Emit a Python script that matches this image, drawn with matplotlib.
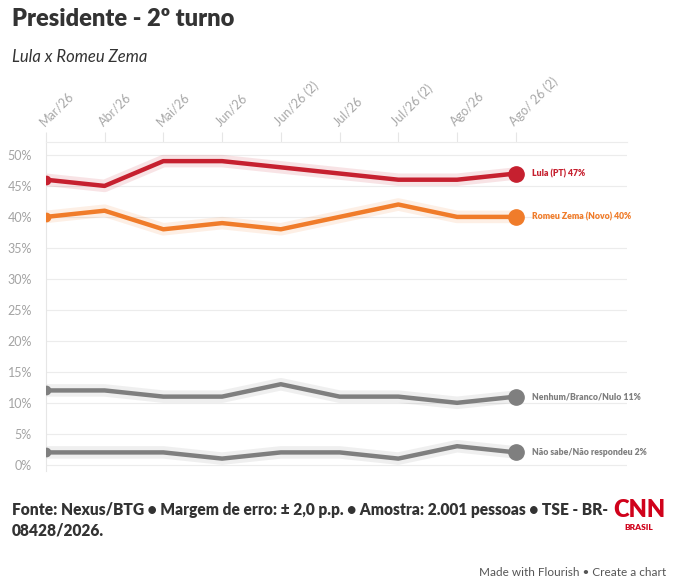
import matplotlib.pyplot as plt
import numpy as np

plt.rcParams["font.family"] = ["Lato", "DejaVu Sans"]

# data
months = ["Mar/26", "Abr/26", "Mai/26", "Jun/26", "Jun/26 (2)",
          "Jul/26", "Jul/26 (2)", "Ago/26", "Ago/ 26 (2)"]
lula = [46, 45, 49, 49, 48, 47, 46, 46, 47]
zema = [40, 41, 38, 39, 38, 40, 42, 40, 40]
nenhum = [12, 12, 11, 11, 13, 11, 11, 10, 11]
nao_sabe = [2, 2, 2, 1, 2, 2, 1, 3, 2]

series = [
    ("Lula (PT)", lula, "#c6202f"),
    ("Romeu Zema (Novo)", zema, "#f07c2a"),
    ("Nenhum/Branco/Nulo", nenhum, "#7f7f7f"),
    ("Não sabe/Não respondeu", nao_sabe, "#7f7f7f"),
]

fig = plt.figure(figsize=(6.74, 5.84), dpi=100)
ax = fig.add_axes([0.068, 0.1935, 0.862, 0.5635])

x = np.arange(len(months))
for name, vals, color in series:
    # soft halo behind line
    ax.plot(x, vals, color=color, lw=9, alpha=0.12, solid_capstyle="round", zorder=2)
    ax.plot(x, vals, color=color, lw=3.2, solid_joinstyle="round", zorder=3)
    ax.plot(x[0], vals[0], "o", color=color, ms=6, zorder=4)
    ax.plot(x[-1], vals[-1], "o", color=color, ms=11, zorder=4)
    ax.annotate(f"{name} {vals[-1]}%", (x[-1], vals[-1]), xytext=(12, 0),
                textcoords="offset points", va="center", ha="left",
                fontsize=6.2, fontweight="heavy", color=color)

ax.set_xlim(0, 8 * 581 / 470)
ax.set_ylim(-1, 52.1)
ax.set_yticks(range(0, 51, 5))
ax.set_yticklabels([f"{v}%" for v in range(0, 51, 5)])
ax.yaxis.grid(True, color="#ececec", lw=0.8)
ax.set_axisbelow(True)
ax.tick_params(axis="y", length=0, labelsize=9, labelcolor="#a3a3a3", pad=10)

ax.set_xticks(x)
ax.set_xticklabels(months, rotation=45, ha="left", rotation_mode="anchor")
ax.xaxis.tick_top()
ax.tick_params(axis="x", length=7, color="#e6e6e6", labelsize=9,
               labelcolor="#a8a8a8", pad=3)

for s in ["right", "bottom"]:
    ax.spines[s].set_visible(False)
ax.spines["left"].set_color("#e6e6e6")
ax.spines["top"].set_color("#ececec")

fig.text(0.018, 0.968, "Presidente - 2º turno", fontsize=17, fontweight="heavy",
         color="#333333", va="center")
fig.text(0.018, 0.903, "Lula x Romeu Zema", fontsize=12, style="italic",
         color="#333333", va="center")

foot = "Fonte: Nexus/BTG \u2022 Margem de erro: ± 2,0 p.p. \u2022 Amostra: 2.001 pessoas \u2022 TSE - BR-"
fig.text(0.018, 0.127, foot, fontsize=11.2, fontweight="heavy",
         color="#333333", va="center")
fig.text(0.018, 0.092, "08428/2026.", fontsize=11.2, fontweight="heavy",
         color="#333333", va="center")

fig.text(0.948, 0.127, "CNN", fontsize=17, fontweight="heavy", color="#d0021b",
         ha="center", va="center")
fig.text(0.948, 0.096, "BRASIL", fontsize=6, fontweight="heavy", color="#d0021b",
         ha="center", va="center")

fig.text(0.988, 0.02, "Made with Flourish \u2022 Create a chart", fontsize=8.5,
         color="#555555", ha="right", va="center")

fig.savefig("out.png", dpi=100)
